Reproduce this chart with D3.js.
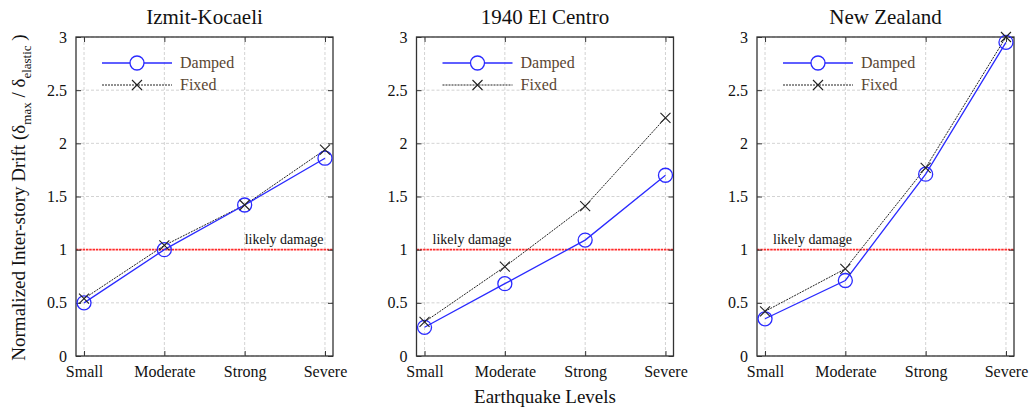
<!DOCTYPE html>
<html><head><meta charset="utf-8">
<script src="https://cdn.jsdelivr.net/npm/d3@7"></script>
<style>body{margin:0;background:#fff;} svg{display:block;} text{font-family:"Liberation Serif","Times New Roman",serif;}</style>
</head><body>
<svg id="c" width="1031" height="412"></svg>
<script>
const categories = ["Small","Moderate","Strong","Severe"];
const titles = ["Izmit-Kocaeli","1940 El Centro","New Zealand"];
const dampedIzmit = [0.50, 1.00, 1.42, 1.86];
const fixedIzmit  = [0.54, 1.04, 1.42, 1.94];
const dampedElCentro = [0.27, 0.68, 1.09, 1.70];
const fixedElCentro  = [0.32, 0.84, 1.41, 2.24];
const dampedNZ = [0.35, 0.71, 1.71, 2.95];
const fixedNZ  = [0.42, 0.82, 1.77, 3.00];
const yTicks = [0, 0.5, 1, 1.5, 2, 2.5, 3];
const threshold = 1;
const seriesNames = ["Damped","Fixed"];

const panels = [
  {title: titles[0], damped: dampedIzmit, fixed: fixedIzmit},
  {title: titles[1], damped: dampedElCentro, fixed: fixedElCentro},
  {title: titles[2], damped: dampedNZ, fixed: fixedNZ}
];

const svg = d3.select("#c");
const W = 257, H = 319, plotTop = 37;
const lefts = [76, 416.5, 757];
const axisCol = "#333";
const gridCol = "#c8c8c8";
const serif = "'Liberation Serif', serif";

panels.forEach((p, i) => {
  const g = svg.append("g").attr("transform", `translate(${lefts[i]},${plotTop})`);
  const x = d3.scalePoint().domain(categories).range([0, W]).padding(0.1);
  const y = d3.scaleLinear().domain([0, 3]).range([H, 0]);

  // grid
  g.selectAll(".hg").data(yTicks.filter(d => d !== threshold)).join("line")
    .attr("x1", 0).attr("x2", W).attr("y1", d => y(d)).attr("y2", d => y(d))
    .attr("stroke", gridCol).attr("stroke-width", 0.8).attr("stroke-dasharray", "3,2");
  g.selectAll(".vg").data(categories).join("line")
    .attr("y1", 0).attr("y2", H).attr("x1", d => x(d)).attr("x2", d => x(d))
    .attr("stroke", gridCol).attr("stroke-width", 0.8).attr("stroke-dasharray", "3,2");

  // threshold
  g.append("line").attr("x1", 0).attr("x2", W).attr("y1", y(threshold)).attr("y2", y(threshold))
    .attr("stroke", "#ff2a2a").attr("stroke-width", 1.6).attr("stroke-dasharray", "2.5,0.8");
  const ldx = i === 0 ? x(categories[2]) : x(categories[0]) + 8;
  g.append("text").attr("x", ldx).attr("y", y(threshold) - 6)
    .attr("font-size", 14).attr("fill", "#111").text("likely damage");

  // axes
  const yl = d3.axisLeft(y).tickValues(yTicks).tickSize(-5).tickPadding(9).tickFormat(d3.format("~g"));
  const yr = d3.axisRight(y).tickValues(yTicks).tickSize(-5).tickFormat("");
  const xb = d3.axisBottom(x).tickSize(-5).tickPadding(10);
  const xt = d3.axisTop(x).tickSize(-5).tickFormat("");
  const styleAx = sel => {
    sel.attr("font-family", serif).attr("font-size", 16);
    sel.selectAll(".tick line").attr("stroke", axisCol).attr("stroke-width", 1);
    sel.selectAll("text").attr("fill", "#111");
  };
  g.append("g").call(yl).call(styleAx);
  g.append("g").attr("transform", `translate(${W},0)`).call(yr).call(styleAx);
  g.append("g").attr("transform", `translate(0,${H})`).call(xb).call(styleAx);
  g.append("g").call(xt).call(styleAx);
  g.selectAll(".domain").remove();
  g.append("rect").attr("x", 0).attr("y", 0).attr("width", W).attr("height", H)
    .attr("fill", "none").attr("stroke", axisCol).attr("stroke-width", 1.3);

  const line = d3.line().x((d, k) => x(categories[k])).y(d => y(d));
  // fixed
  g.append("path").datum(p.fixed).attr("d", line).attr("fill", "none")
    .attr("stroke", "#222").attr("stroke-width", 1).attr("stroke-dasharray", "2,1");
  // damped
  g.append("path").datum(p.damped).attr("d", line).attr("fill", "none")
    .attr("stroke", "#2a2aff").attr("stroke-width", 1.3);
  const cross = (sel, cx, cy, s) => sel.append("path")
    .attr("d", `M${cx-s},${cy-s}L${cx+s},${cy+s}M${cx-s},${cy+s}L${cx+s},${cy-s}`)
    .attr("stroke", "#222").attr("stroke-width", 1.1).attr("fill", "none");
  g.selectAll(".dm").data(p.damped).join("circle")
    .attr("cx", (d, k) => x(categories[k])).attr("cy", d => y(d)).attr("r", 7)
    .attr("fill", "none").attr("stroke", "#2a2aff").attr("stroke-width", 1.3);
  p.fixed.forEach((d, k) => cross(g, x(categories[k]), y(d), 5));

  // legend
  const lg = g.append("g");
  lg.append("line").attr("x1", 26).attr("x2", 96).attr("y1", 26).attr("y2", 26)
    .attr("stroke", "#2a2aff").attr("stroke-width", 1.3);
  lg.append("circle").attr("cx", 61).attr("cy", 26).attr("r", 7).attr("fill", "#fff")
    .attr("stroke", "#2a2aff").attr("stroke-width", 1.3);
  lg.append("line").attr("x1", 26).attr("x2", 96).attr("y1", 48).attr("y2", 48)
    .attr("stroke", "#222").attr("stroke-width", 1).attr("stroke-dasharray", "2,1");
  cross(lg, 61, 48, 5);
  lg.selectAll("text").data(seriesNames).join("text")
    .attr("x", 104).attr("y", (d, k) => 31 + k * 22).attr("font-size", 16)
    .attr("fill", "#5a4632").text(d => d);

  // title
  svg.append("text").attr("x", lefts[i] + W / 2).attr("y", 24).attr("text-anchor", "middle")
    .attr("font-size", 21).attr("fill", "#111").text(p.title);
});

// x label
svg.append("text").attr("x", lefts[1] + W / 2).attr("y", 403).attr("text-anchor", "middle")
  .attr("font-size", 19).attr("fill", "#111").text("Earthquake Levels");

// y label
const ylab = svg.append("text").attr("transform", `translate(25,${plotTop + H / 2 + 1}) rotate(-90)`)
  .attr("text-anchor", "middle").attr("font-size", 19).attr("fill", "#111");
ylab.append("tspan").text("Normalized Inter-story Drift (δ");
ylab.append("tspan").attr("font-size", 13).attr("dy", 6).text("max");
ylab.append("tspan").attr("dy", -6).text(" / δ");
ylab.append("tspan").attr("font-size", 13).attr("dy", 6).text("elastic");
ylab.append("tspan").attr("dy", -6).text(" )");
</script>
</body></html>
